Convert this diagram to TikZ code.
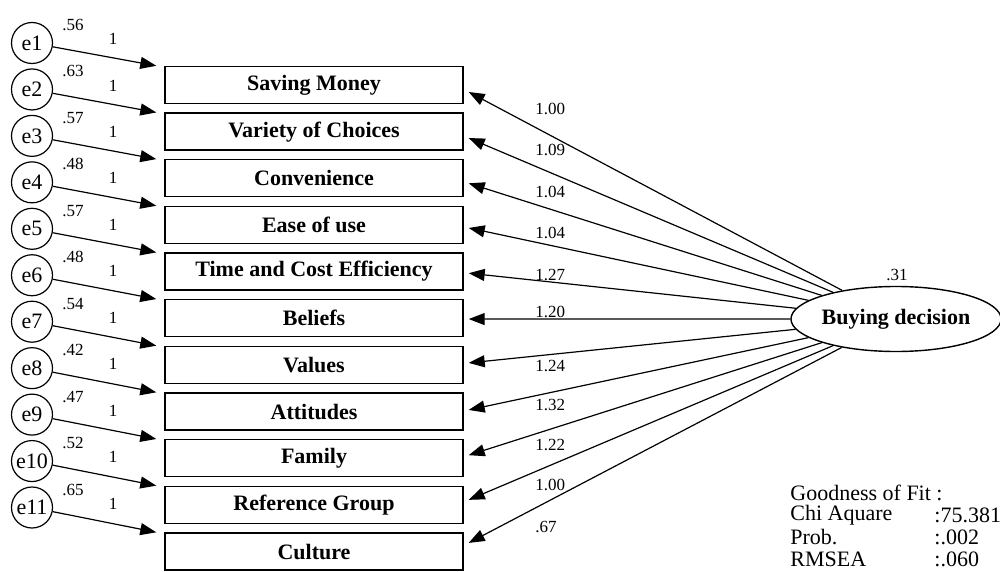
\documentclass[tikz,border=0pt]{standalone}
\usepackage{fontspec}
\setmainfont{Liberation Serif}
\usepackage{tikz}
\usetikzlibrary{arrows.meta,shapes.geometric}
\tikzset{
  style box/.style={
    draw, line width=0.7pt,
    minimum width=149pt, minimum height=18.5pt, inner sep=0pt,
    font=\fontsize{11}{13}\selectfont\bfseries,
  },
  style err/.style={
    circle, draw, line width=0.6pt,
    minimum size=20.5pt, inner sep=0pt,
    font=\fontsize{11}{13}\selectfont,
  },
  style latent/.style={
    ellipse, draw, line width=0.7pt,
    minimum width=98.5pt, minimum height=32.5pt, inner sep=0pt,
    font=\fontsize{11}{13}\selectfont\bfseries,
  },
  style num/.style={
    inner sep=0pt, font=\fontsize{8.5}{10}\selectfont,
    #1
  },
  style fit/.style={
    inner sep=0pt, anchor=west, font=\fontsize{11}{13}\selectfont,
  }
}

\begin{document}
\begin{tikzpicture}[x=0.5pt, y=-0.5pt]
                    \useasboundingbox (0,0) rectangle (1000,572);
                    \begin{scope}[every node/.style={style box}]
                        \node (B1)  at (314, 85 + 46.65 *  0) {Saving Money};
                        \node (B2)  at (314, 85 + 46.65 *  1) {Variety of Choices};
                        \node (B3)  at (314, 85 + 46.65 *  2) {Convenience};
                        \node (B4)  at (314, 85 + 46.65 *  3) {Ease of use};
                        \node (B5)  at (314, 85 + 46.65 *  4) {Time and Cost Efficiency};
                        \node (B6)  at (314, 85 + 46.65 *  5) {Beliefs};
                        \node (B7)  at (314, 85 + 46.65 *  6) {Values};
                        \node (B8)  at (314, 85 + 46.65 *  7) {Attitudes};
                        \node (B9)  at (314, 85 + 46.65 *  8) {Family};
                        \node (B10) at (314, 85 + 46.65 *  9) {Reference Group};
                        \node (B11) at (314, 85 + 46.65 * 10) {Culture};
                    \end{scope}
                    \begin{scope}[every node/.style={style err}]
                        \node (E1)  at (32, 43 + 46.45 *  0) {e1};
                        \node (E2)  at (32, 43 + 46.45 *  1) {e2};
                        \node (E3)  at (32, 43 + 46.45 *  2) {e3};
                        \node (E4)  at (32, 43 + 46.45 *  3) {e4};
                        \node (E5)  at (32, 43 + 46.45 *  4) {e5};
                        \node (E6)  at (32, 43 + 46.45 *  5) {e6};
                        \node (E7)  at (32, 43 + 46.45 *  6) {e7};
                        \node (E8)  at (32, 43 + 46.45 *  7) {e8};
                        \node (E9)  at (32, 43 + 46.45 *  8) {e9};
                        \node (E10) at (32, 43 + 46.45 *  9) {e10};
                        \node (E11) at (32, 43 + 46.45 * 10) {e11};
                    \end{scope}
                    \node [style latent] (BD) at (896, 319) {Buying decision};
                    \node [style num] (R) at (897, 275) {.31};

                    % error variances and fixed weights
                    \begin{scope}[every node/.style={style num={anchor=west}}]
                        \node (V1)  at (62, 25 + 46.45 *  0) {.56};
                        \node (V2)  at (62, 25 + 46.45 *  1) {.63};
                        \node (V3)  at (62, 25 + 46.45 *  2) {.57};
                        \node (V4)  at (62, 25 + 46.45 *  3) {.48};
                        \node (V5)  at (62, 25 + 46.45 *  4) {.57};
                        \node (V6)  at (62, 25 + 46.45 *  5) {.48};
                        \node (V7)  at (62, 25 + 46.45 *  6) {.54};
                        \node (V8)  at (62, 25 + 46.45 *  7) {.42};
                        \node (V9)  at (62, 25 + 46.45 *  8) {.47};
                        \node (V10) at (62, 25 + 46.45 *  9) {.52};
                        \node (V11) at (62, 25 + 46.45 * 10) {.65};
                    \end{scope}
                    \begin{scope}[every node/.style={style num}]
                        \node (W1)  at (113, 39 + 46.45 *  0) {1};
                        \node (W2)  at (113, 39 + 46.45 *  1) {1};
                        \node (W3)  at (113, 39 + 46.45 *  2) {1};
                        \node (W4)  at (113, 39 + 46.45 *  3) {1};
                        \node (W5)  at (113, 39 + 46.45 *  4) {1};
                        \node (W6)  at (113, 39 + 46.45 *  5) {1};
                        \node (W7)  at (113, 39 + 46.45 *  6) {1};
                        \node (W8)  at (113, 39 + 46.45 *  7) {1};
                        \node (W9)  at (113, 39 + 46.45 *  8) {1};
                        \node (W10) at (113, 39 + 46.45 *  9) {1};
                        \node (W11) at (113, 39 + 46.45 * 10) {1};
                    \end{scope}

                    % loadings
                    \begin{scope}[every node/.style={style num={anchor=west}}]
                        \node (L1)  at (535, 109) {1.00};
                        \node (L2)  at (535, 150) {1.09};
                        \node (L3)  at (535, 192) {1.04};
                        \node (L4)  at (535, 233) {1.04};
                        \node (L5)  at (535, 275) {1.27};
                        \node (L6)  at (535, 312) {1.20};
                        \node (L7)  at (535, 366) {1.24};
                        \node (L8)  at (535, 405) {1.32};
                        \node (L9)  at (535, 445) {1.22};
                        \node (L10) at (535, 485) {1.00};
                        \node (L11) at (535, 527) {.67};
                    \end{scope}

                    \begin{scope}[>={Triangle[length=8pt,width=6pt]}, every edge/.style={draw,line width=0.6pt}]
                        \path [->] (E1)  edge ([xshift=-4pt]B1.north west);
                        \path [->] (E2)  edge ([xshift=-4pt]B2.north west);
                        \path [->] (E3)  edge ([xshift=-4pt]B3.north west);
                        \path [->] (E4)  edge ([xshift=-4pt]B4.north west);
                        \path [->] (E5)  edge ([xshift=-4pt]B5.north west);
                        \path [->] (E6)  edge ([xshift=-4pt]B6.north west);
                        \path [->] (E7)  edge ([xshift=-4pt]B7.north west);
                        \path [->] (E8)  edge ([xshift=-4pt]B8.north west);
                        \path [->] (E9)  edge ([xshift=-4pt]B9.north west);
                        \path [->] (E10) edge ([xshift=-4pt]B10.north west);
                        \path [->] (E11) edge ([xshift=-4pt]B11.north west);

                        \path [->] (BD) edge ([xshift=2.5pt,yshift=-3.5pt]B1.east);
                        \path [->] (BD) edge ([xshift=2.5pt,yshift=-3.2pt]B2.east);
                        \path [->] (BD) edge ([xshift=2.5pt,yshift=-2.5pt]B3.east);
                        \path [->] (BD) edge ([xshift=2.5pt,yshift=-1.5pt]B4.east);
                        \path [->] (BD) edge ([xshift=2.5pt,yshift=-0.8pt]B5.east);
                        \path [->] (BD) edge ([xshift=2.5pt,yshift=-0.4pt]B6.east);
                        \path [->] (BD) edge ([xshift=2.5pt,yshift=1pt]B7.east);
                        \path [->] (BD) edge ([xshift=2.5pt,yshift=0.8pt]B8.east);
                        \path [->] (BD) edge ([xshift=2.5pt,yshift=1.5pt]B9.east);
                        \path [->] (BD) edge ([xshift=2.5pt,yshift=2.5pt]B10.east);
                        \path [->] (BD) edge ([xshift=2.5pt,yshift=4.3pt]B11.east);
                    \end{scope}

                    % fit indices
                    \begin{scope}[every node/.style={style fit}]
                        \node (G0) at (790, 493) {Goodness of Fit :};
                        \node (G1) at (790, 515) {Chi Aquare};
                        \node (G2) at (790, 537) {Prob.};
                        \node (G3) at (790, 559) {RMSEA};
                        \node (F1) at (934, 515) {:75.381};
                        \node (F2) at (934, 537) {:.002};
                        \node (F3) at (934, 559) {:.060};
                    \end{scope}
                \end{tikzpicture}
\end{document}
